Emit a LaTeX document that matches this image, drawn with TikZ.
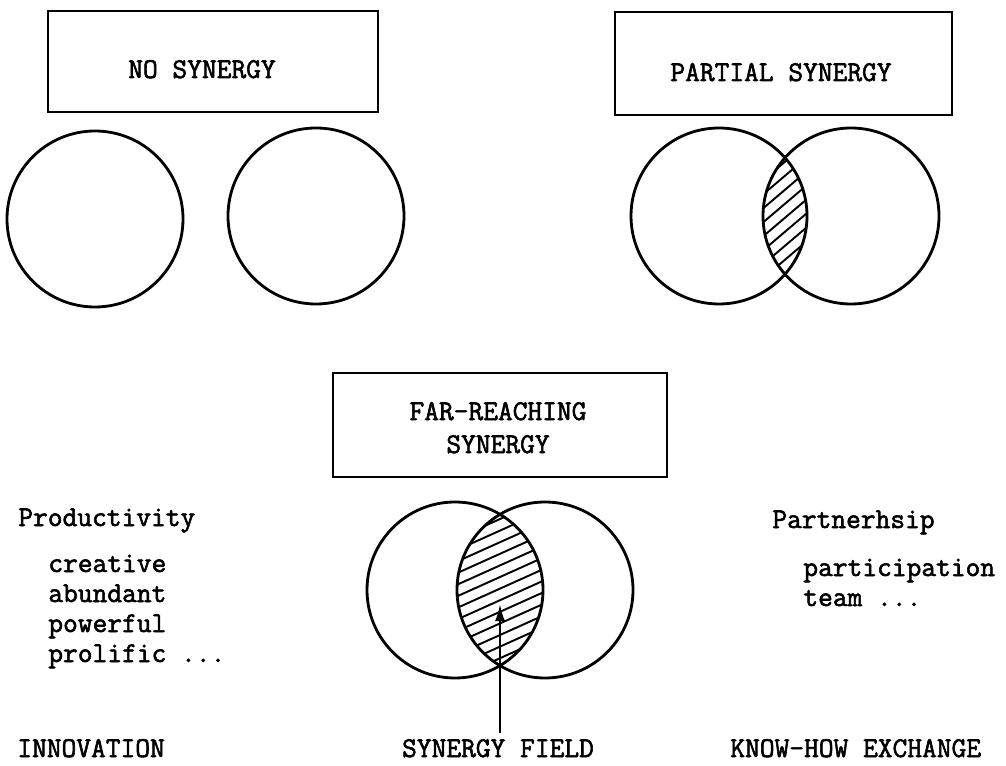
\documentclass[tikz,border=0pt]{standalone}
\usepackage{fontspec}
\usetikzlibrary{arrows.meta}
\newfontfamily\typerfont[FakeBold=2]{Latin Modern Mono}

\begin{document}
\begin{tikzpicture}[x=0.02cm, y=-0.02cm,
  typed/.style={font=\typerfont\fontsize{16.3}{30}\selectfont, inner sep=0pt},
  titlebox/.style={draw, line width=1.1pt, inner sep=0pt},
  ring/.style={line width=1.6pt},
  hatch/.style={line width=1.1pt},
  pointer/.style={line width=1.3pt, -{Latex[length=0.34cm,width=0.2cm]}}]

\useasboundingbox (0,0) rectangle (1006,766);

% ---------- no synergy ----------
\node[titlebox, minimum width=6.6cm, minimum height=2.02cm] (nobox) at (213,61.5) {};
\node[typed, anchor=base] (notext) at (202,78) {NO SYNERGY};
\draw[ring] (95,219) circle[radius=88];
\draw[ring] (316,216) circle[radius=88];

% ---------- partial synergy ----------
\node[titlebox, minimum width=6.74cm, minimum height=2.06cm] (partbox) at (783.5,63.5) {};
\node[typed, anchor=base] (parttext) at (781,81) {PARTIAL SYNERGY};
\begin{scope}
  \clip (719,216) circle[radius=88];
  \clip (851,216) circle[radius=88];
  % lines y = c - 0.85 x
  \foreach \c in {829,843,...,940}
    \draw[hatch] (740,\c-740*0.85) -- (830,\c-830*0.85);
\end{scope}
\draw[ring] (719,216) circle[radius=88];
\draw[ring] (851,216) circle[radius=88];

% ---------- far-reaching synergy ----------
\node[titlebox, minimum width=6.68cm, minimum height=2.08cm] (farbox) at (500,425) {};
\node[typed, anchor=base] (fartext1) at (498,420) {FAR-REACHING};
\node[typed, anchor=base] (fartext2) at (498,453) {SYNERGY};
\begin{scope}
  \clip (455,590) circle[radius=88];
  \clip (545,590) circle[radius=88];
  % lines y = c - 0.45 x
  \foreach \c in {744,755.6,...,890}
    \draw[hatch] (440,\c-440*0.45) -- (560,\c-560*0.45);
\end{scope}
\draw[ring] (455,590) circle[radius=88];
\draw[ring] (545,590) circle[radius=88];

\coordinate (fieldfoot) at (500,733);
\coordinate (fieldtip) at (500,604);
\draw[pointer] (fieldfoot) -- (fieldtip);
\node[typed, anchor=base] (fieldtext) at (498,757) {SYNERGY FIELD};

% ---------- side lists ----------
\node[typed, anchor=base west] (prod) at (18,526) {Productivity};
\node[typed, anchor=base west] (creative) at (48,572) {creative};
\node[typed, anchor=base west] (abundant) at (48,602) {abundant};
\node[typed, anchor=base west] (powerful) at (48,632) {powerful};
\node[typed, anchor=base west] (prolific) at (48,662) {prolific ...};
\node[typed, anchor=base west] (innov) at (17,757) {INNOVATION};

\node[typed, anchor=base west] (partner) at (772,528) {Partnerhsip};
\node[typed, anchor=base west] (particip) at (803,576) {participation};
\node[typed, anchor=base west] (team) at (803,606) {team ...};
\node[typed, anchor=base west] (knowhow) at (730,757) {KNOW-HOW EXCHANGE};

\end{tikzpicture}
\end{document}
